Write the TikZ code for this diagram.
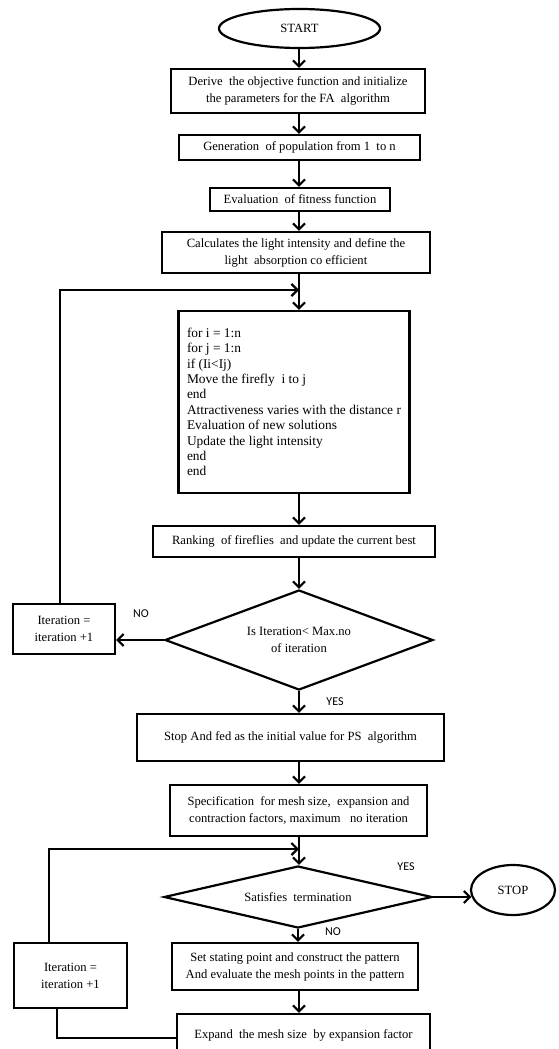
\documentclass[tikz,border=0pt]{standalone}
\usepackage{fontspec}
\setmainfont{Liberation Serif}
\newfontfamily\labfont{Carlito}
\usetikzlibrary{shapes.geometric,arrows.meta}
\begin{document}
\begin{tikzpicture}[x=1pt,y=-1pt,
  txt/.style={font=\fontsize{12.6}{17}\selectfont},
  box/.style={draw,line width=2.2pt,inner sep=0pt,align=center,txt},
  oval/.style={draw,ellipse,line width=2.2pt,inner sep=0pt,txt},
  dia/.style={draw,diamond,line width=2.2pt,inner sep=0pt,align=center,txt},
  arr/.style={line width=2.2pt,-{Straight Barb[length=6pt,width=12pt,line width=2.2pt]}},
  ln/.style={line width=2.2pt},
  lab/.style={font=\labfont\fontsize{12}{14}\selectfont,inner sep=0pt}
]
\useasboundingbox (0,0) rectangle (558,1049);
\clip (0,0) rectangle (558,1049);
\fill[white] (0,0) rectangle (558,1049);

\node[oval,minimum width=161pt,minimum height=39pt] (start) at (299.5,28.5) {START};
\node[box,minimum width=254pt,minimum height=44pt] (b1) at (298,91) {Derive\ \ the objective function and initialize\\the parameters for the FA\ \ algorithm};
\node[box,minimum width=241pt,minimum height=25pt] (b2) at (299.5,147.5) {Generation\ \ of population from 1\ \ to n};
\node[box,minimum width=180pt,minimum height=23pt] (b3) at (300,199.5) {Evaluation\ \ of fitness function};
\node[box,minimum width=268pt,minimum height=41pt] (b4) at (296,252.5) {Calculates the light intensity and define the\\light\ \ absorption co efficient};
\node[box,align=left,minimum width=231pt,minimum height=182pt,font=\fontsize{13.4}{15.4}\selectfont] (loop) at (294,402) {for i = 1:n\\for j = 1:n\\if (Ii<Ij)\\Move the firefly\ \ i to j\\end\\Attractiveness varies with the distance r\\Evaluation of new solutions\\Update the light intensity\\end\\end};
\node[box,minimum width=282pt,minimum height=31pt] (rank) at (294,541.5) {Ranking\ \ of fireflies\ \ and update the current best};
\node[dia,aspect=2.68,minimum width=268pt,minimum height=100pt] (d1) at (299,640) {Is Iteration<\ Max.no\\of iteration};
\node[box,minimum width=102pt,minimum height=50pt] (it1) at (64,629) {Iteration =\\iteration +1};
\node[box,minimum width=307pt,minimum height=47pt] (stopb) at (290.5,737.5) {Stop And fed as the initial value for PS\ \ algorithm};
\node[box,minimum width=257pt,minimum height=51pt] (spec) at (298.5,810.5) {Specification\ \ for mesh size,\ \ expansion and\\contraction factors, maximum\ \ \ no iteration};
\node[dia,aspect=4.3,minimum width=268pt,minimum height=62pt] (d2) at (298,897) {Satisfies\ \ termination};
\node[oval,minimum width=84pt,minimum height=50pt] (stop) at (513,890) {STOP};
\node[box,minimum width=246pt,minimum height=47pt] (setb) at (295,966.5) {Set stating point and construct the pattern\\And evaluate the mesh points in the pattern};
\node[box,minimum width=113pt,minimum height=65pt] (it2) at (70.5,975.5) {Iteration =\\iteration +1};
\node[box,minimum width=253pt,minimum height=42pt] (exp) at (303.5,1035) {Expand\ \ the mesh size\ \ by expansion factor};

\node[lab] (no1) at (141,614) {NO};
\node[lab] (yes1) at (335,702) {YES};
\node[lab] (yes2) at (406,867) {YES};
\node[lab] (no2) at (333,932) {NO};

\coordinate (m) at (299,0);
\coordinate (j1) at (299,290);
\coordinate (j2) at (299,849);

\draw[arr] (start.south -| m) -- (b1.north -| m);
\draw[arr] (b1.south -| m) -- (b2.north -| m);
\draw[arr] (b2.south -| m) -- (b3.north -| m);
\draw[arr] (b3.south -| m) -- (b4.north -| m);
\draw[arr] (b4.south -| m) -- (loop.north -| m);
\draw[arr] (loop.south -| m) -- (rank.north -| m);
\draw[arr] (rank.south -| m) -- (d1.north);
\draw[arr] (d1.west) -- (it1.east |- d1.west);
\draw[arr] ([xshift=-4pt]it1.north) |- (j1);
\draw[arr] (d1.south) -- (stopb.north -| d1.south);
\draw[arr] (stopb.south -| m) -- (spec.north -| m);
\draw[arr] (spec.south -| m) -- (d2.north -| m);
\draw[arr] ([xshift=-21.5pt]it2.north) |- (j2);
\draw[arr,shorten >=-1.5pt] (d2.east) -- (stop.west |- d2.east);
\draw[arr] (d2.south) -- (setb.north -| d2.south);
\draw[arr] (setb.south -| m) -- (exp.north -| m);
\draw[ln] ([xshift=-13.5pt]it2.south) |- ([yshift=-3pt]exp.west);
\end{tikzpicture}
\end{document}
